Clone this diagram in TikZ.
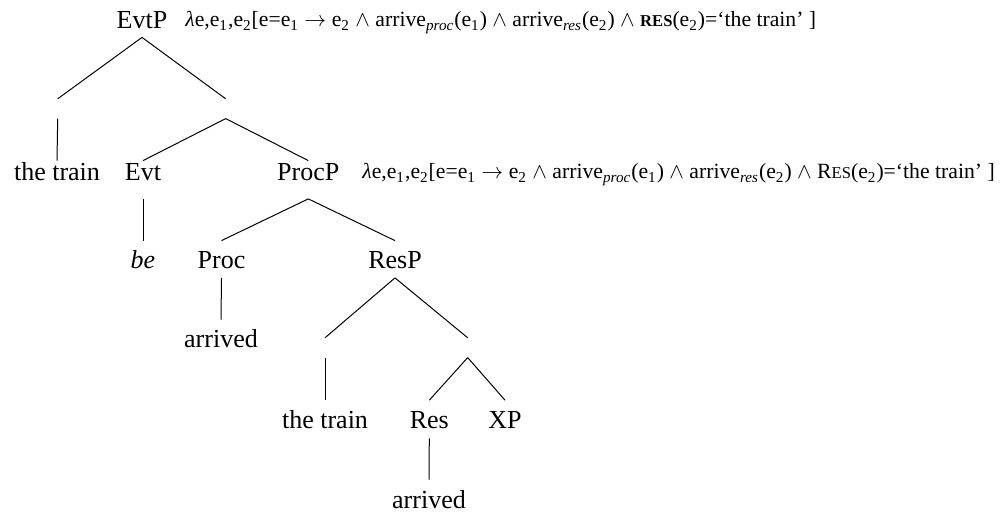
\documentclass[tikz,border=0pt]{standalone}
\usepackage{fontspec}
\setmainfont{Liberation Serif}
\newcommand\smallcapsz[1]{{\fontsize{8.3}{10}\selectfont #1}}
\newcommand\lam{\textit{λ}}
\newcommand\semA{\lam e,e\textsubscript{1},e\textsubscript{2}[e=e\textsubscript{1} $\rightarrow$ e\textsubscript{2} $\wedge$ arrive\textsubscript{\textit{proc}}(e\textsubscript{1}) $\wedge$ arrive\textsubscript{\textit{res}}(e\textsubscript{2}) $\wedge$ \smallcapsz{\textbf{RES}}(e\textsubscript{2})=`the train' ]}
\newcommand\semB{\lam e,e\textsubscript{1},e\textsubscript{2}[e=e\textsubscript{1} $\rightarrow$ e\textsubscript{2} $\wedge$ arrive\textsubscript{\textit{proc}}(e\textsubscript{1}) $\wedge$ arrive\textsubscript{\textit{res}}(e\textsubscript{2}) $\wedge$ R\smallcapsz{ES}(e\textsubscript{2})=`the train' ]}
\begin{document}
\begin{tikzpicture}[x=0.5pt,y=-0.5pt,
  every node/.style={inner sep=0pt, anchor=base, font=\fontsize{13}{15}\selectfont},
  lv0/.style={text depth=4pt},
  lv2/.style={text height=10pt,text depth=8.75pt},
  lv3/.style={text height=14pt,text depth=4.25pt},
  lv5/.style={text height=13.7pt,text depth=5pt},
  empty/.style={minimum height=9.5pt, minimum width=0pt, anchor=center},
  sem/.style={font=\fontsize{10.85}{13}\selectfont, anchor=base west},
  edge/.style={line width=0.5pt}]
\useasboundingbox (0,0) rectangle (1007,513);
\node[lv0] (evtp) at (142,29) {EvtP};
\node[sem] (sem1) at (185,27) {\semA};
\node[empty] (a) at (57.7,108.7) {};
\node[empty] (b) at (225.7,108.7) {};
\node[lv2] (t1) at (57,181) {the train};
\node[lv2] (evt) at (143,181) {Evt};
\node[lv2] (procp) at (308.3,181) {ProcP};
\node[sem] (sem2) at (362,179) {\semB};
\node[lv3] (be) at (143,269) {\textit{be}};
\node[lv3] (proc) at (221.5,269) {Proc};
\node[lv3] (resp) at (395,269) {ResP};
\node[lv3] (arr1) at (221,348) {arrived};
\node[empty] (c) at (325,347.7) {};
\node[empty] (d) at (467.7,347.7) {};
\node[lv5] (t2) at (325,428) {the train};
\node[lv5] (res) at (429.3,428) {Res};
\node[lv5] (xp) at (505,428) {XP};
\node[lv3] (arr2) at (429,508) {arrived};
\draw[edge] (evtp.south) -- (a.north);
\draw[edge] (evtp.south) -- (b.north);
\draw[edge] (a.south) -- (t1.north);
\draw[edge] (b.south) -- (evt.north);
\draw[edge] (b.south) -- (procp.north);
\draw[edge] (evt.south) -- (be.north);
\draw[edge] (procp.south) -- (proc.north);
\draw[edge] (procp.south) -- (resp.north);
\draw[edge] (proc.south) -- (arr1.north);
\draw[edge] (resp.south) -- (c.north);
\draw[edge] (resp.south) -- (d.north);
\draw[edge] (c.south) -- (t2.north);
\draw[edge] (d.south) -- (res.north);
\draw[edge] (d.south) -- (xp.north);
\draw[edge] (res.south) -- (arr2.north);
\end{tikzpicture}
\end{document}
